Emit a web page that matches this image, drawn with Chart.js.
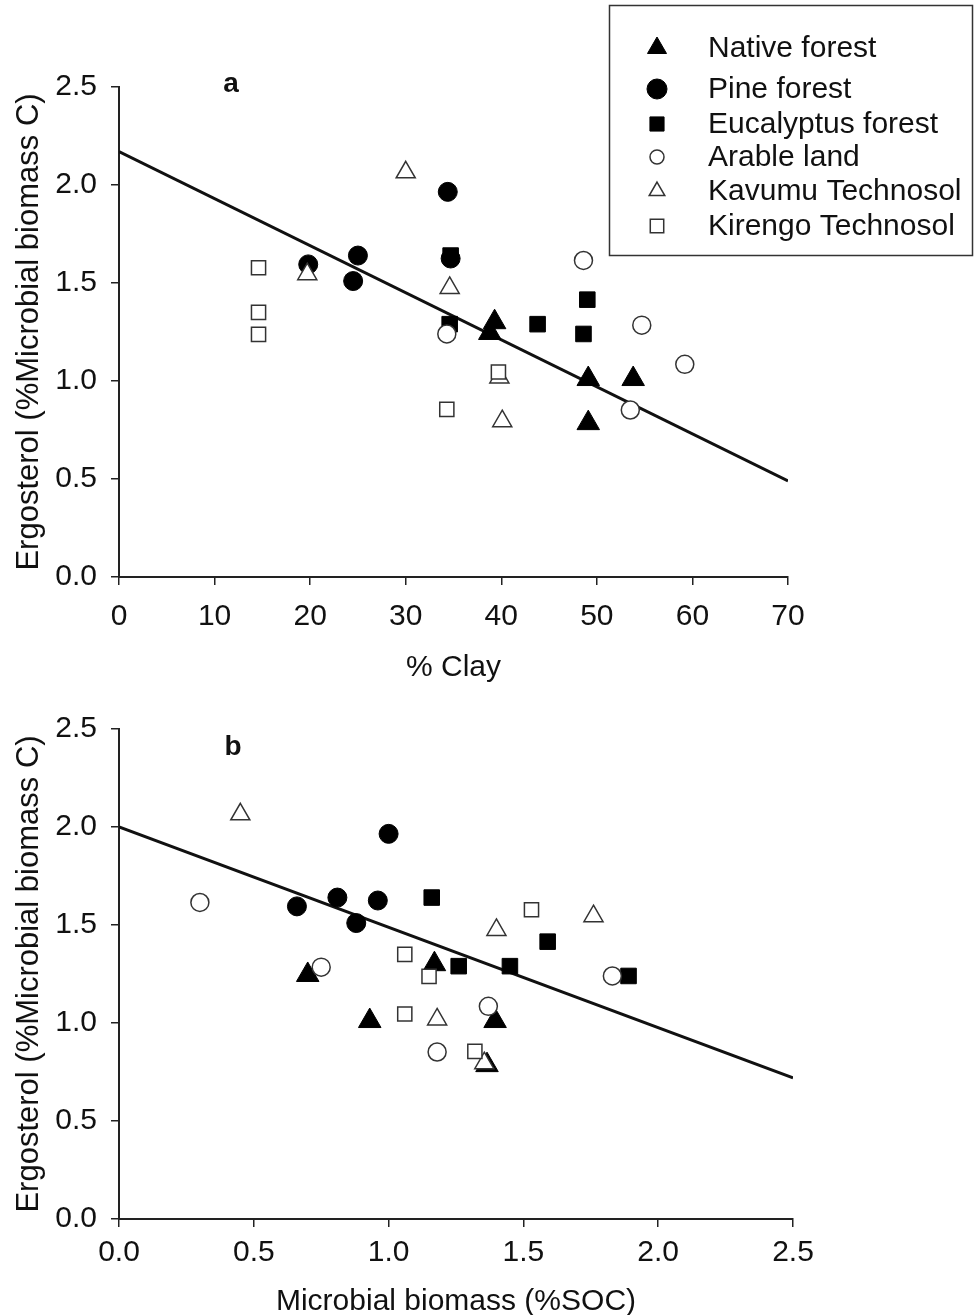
<!DOCTYPE html>
<html>
<head>
<meta charset="utf-8">
<script src="https://cdn.jsdelivr.net/npm/chart.js@4"></script>
<style>
  body { margin: 0; background: #fff; }
  #wrap { position: relative; width: 977px; height: 1315px; }
  canvas { position: absolute; left: 0; }
  #chartA { top: 0; }
  #chartB { top: 700px; }
</style>
</head>
<body>
<div id="wrap">
  <canvas id="chartA" width="977" height="700"></canvas>
  <canvas id="chartB" width="977" height="615"></canvas>
</div>
<script>
// series names, in legend order
const seriesNames = ['Native forest', 'Pine forest', 'Eucalyptus forest', 'Arable land', 'Kavumu Technosol', 'Kirengo Technosol'];

// ergosterol (% microbial biomass C), same samples in both panels
const ergoNative = [1.30, 1.245, 1.01, 1.01, 0.785];
const ergoPine = [1.595, 1.64, 1.51, 1.965, 1.625];
const ergoEuc = [1.64, 1.29, 1.29, 1.415, 1.24];
const ergoArable = [1.24, 1.615, 1.285, 1.085, 0.852];
const ergoKavumu = [2.065, 1.545, 1.475, 1.018, 0.795];
const ergoKirengo = [1.578, 1.35, 1.238, 1.046, 0.855];

// % clay (panel a)
const clayNative = [39.3, 38.8, 49.1, 53.8, 49.1];
const clayPine = [19.8, 25.0, 24.5, 34.4, 34.7];
const clayEuc = [34.7, 34.6, 43.8, 49.0, 48.6];
const clayArable = [34.3, 48.6, 54.7, 59.2, 53.5];
const clayKavumu = [30.0, 19.7, 34.6, 39.8, 40.1];
const clayKirengo = [14.6, 14.6, 14.6, 39.7, 34.3];

// microbial biomass (%SOC) (panel b)
const mbNative = [1.17, 0.70, 0.93, 1.395, 1.365];
const mbPine = [0.66, 0.81, 0.88, 1.00, 0.96];
const mbEuc = [1.16, 1.26, 1.45, 1.59, 1.89];
const mbArable = [1.83, 0.30, 0.75, 1.37, 1.18];
const mbKavumu = [0.45, 1.76, 1.40, 1.18, 1.355];
const mbKirengo = [1.53, 1.06, 1.15, 1.06, 1.32];

// regression lines
const fitAx = [0, 70];
const fitAy = [2.17, 0.49];
const fitBx = [0, 2.5];
const fitBy = [2.0, 0.72];

// tick values
const ergoTicks = [0, 0.5, 1.0, 1.5, 2.0, 2.5];
const clayTicks = [0, 10, 20, 30, 40, 50, 60, 70];
const mbTicks = [0, 0.5, 1.0, 1.5, 2.0, 2.5];

const ergoAll = [ergoNative, ergoPine, ergoEuc, ergoArable, ergoKavumu, ergoKirengo];
const clayAll = [clayNative, clayPine, clayEuc, clayArable, clayKavumu, clayKirengo];
const mbAll = [mbNative, mbPine, mbEuc, mbArable, mbKavumu, mbKirengo];

// marker look per series
const markers = [
  { style: 'triangle', r: 13, fill: '#000', line: '#000', bw: 1, lr: 11 },
  { style: 'circle', r: 9.5, fill: '#000', line: '#000', bw: 1, lr: 10 },
  { style: 'rect', r: 11, fill: '#000', line: '#000', bw: 1, lr: 10 },
  { style: 'circle', r: 9, fill: '#fff', line: '#333', bw: 1.5, lr: 7 },
  { style: 'triangle', r: 11, fill: '#fff', line: '#333', bw: 1.5, lr: 9 },
  { style: 'rect', r: 10, fill: '#fff', line: '#333', bw: 1.5, lr: 9.5 }
];

Chart.defaults.font.family = '"Liberation Sans", Arial, sans-serif';
Chart.defaults.color = '#111';

function pointSets(xs) {
  return seriesNames.map(function (name, i) {
    var m = markers[i];
    return {
      label: name,
      data: xs[i].map(function (x, j) { return { x: x, y: ergoAll[i][j] }; }),
      pointStyle: m.style,
      pointRadius: m.r,
      pointHoverRadius: m.r,
      backgroundColor: m.fill,
      borderColor: m.line,
      borderWidth: m.bw,
      order: 10 - i
    };
  });
}

function fitSet(xs, ys) {
  return {
    label: 'fit',
    data: xs.map(function (x, j) { return { x: x, y: ys[j] }; }),
    showLine: true,
    pointRadius: 0,
    borderColor: '#111',
    borderWidth: 3,
    order: 20
  };
}

const legendBox = {
  id: 'legendBox',
  afterDraw: function (chart) {
    if (!chart.options.plugins.legendBox.show) return;
    var ctx = chart.ctx;
    var rows = [48, 89, 124, 157, 191, 226];
    ctx.save();
    ctx.lineWidth = 1.5;
    ctx.strokeStyle = '#333';
    ctx.strokeRect(609.5, 5.5, 363, 250);
    ctx.font = '30px "Liberation Sans", Arial, sans-serif';
    ctx.textBaseline = 'middle';
    ctx.textAlign = 'left';
    chart.data.datasets.forEach(function (ds, i) {
      if (i >= seriesNames.length) return;
      var m = markers[i];
      ctx.fillStyle = m.fill;
      ctx.strokeStyle = m.line;
      ctx.lineWidth = m.bw;
      Chart.helpers.drawPoint(ctx, { pointStyle: m.style, radius: m.lr, rotation: 0, borderWidth: m.bw }, 657, rows[i]);
      ctx.fillStyle = '#111';
      ctx.fillText(ds.label, 708, rows[i] + 1);
    });
    ctx.restore();
  }
};

const panelLabel = {
  id: 'panelLabel',
  afterDraw: function (chart) {
    var o = chart.options.plugins.panelLabel;
    var ctx = chart.ctx;
    ctx.save();
    ctx.font = 'bold 28px "Liberation Sans", Arial, sans-serif';
    ctx.fillStyle = '#111';
    ctx.textAlign = 'center';
    ctx.textBaseline = 'middle';
    ctx.fillText(o.text, o.x, o.y);
    ctx.restore();
  }
};

function makeOptions(p) {
  return {
    responsive: false,
    animation: false,
    events: [],
    layout: { padding: { left: 0, top: p.top, right: p.right, bottom: 0 } },
    plugins: {
      legend: { display: false },
      tooltip: { enabled: false },
      legendBox: { show: p.legend },
      panelLabel: p.label
    },
    scales: {
      x: {
        type: 'linear',
        min: p.xTicks[0],
        max: p.xTicks[p.xTicks.length - 1],
        afterBuildTicks: function (s) { s.ticks = p.xTicks.map(function (v) { return { value: v }; }); },
        afterFit: function (s) { s.height = p.xHeight; },
        ticks: {
          font: { size: 30, lineHeight: 1 },
          padding: p.xPad,
          maxRotation: 0,
          callback: p.xFmt
        },
        grid: { drawOnChartArea: false, drawTicks: true, tickLength: 8, color: '#222', lineWidth: 1.5 },
        border: { display: true, color: '#222', width: 2 },
        title: {
          display: true,
          text: p.xTitle,
          font: { size: 30, lineHeight: 1 },
          padding: { top: 0, bottom: p.xTitlePad }
        }
      },
      y: {
        type: 'linear',
        min: 0,
        max: 2.5,
        afterBuildTicks: function (s) { s.ticks = ergoTicks.map(function (v) { return { value: v }; }); },
        afterFit: function (s) { s.width = 119; },
        ticks: {
          font: { size: 30, lineHeight: 1 },
          padding: 14,
          callback: function (v) { return Number(v).toFixed(1); }
        },
        grid: { drawOnChartArea: false, drawTicks: true, tickLength: 8, color: '#222', lineWidth: 1.5 },
        border: { display: true, color: '#222', width: 2 },
        title: {
          display: true,
          text: 'Ergosterol (%Microbial biomass C)',
          font: { size: 31, lineHeight: 1 },
          padding: { top: 14, bottom: 0 }
        }
      }
    }
  };
}

new Chart(document.getElementById('chartA'), {
  type: 'scatter',
  data: { datasets: pointSets(clayAll).concat([fitSet(fitAx, fitAy)]) },
  options: makeOptions({
    top: 87, right: 189, xHeight: 123, xPad: 17, xTitlePad: 17,
    xTicks: clayTicks, xTitle: '% Clay',
    xFmt: function (v) { return String(v); },
    legend: true,
    label: { text: 'a', x: 231, y: 84 }
  }),
  plugins: [legendBox, panelLabel]
});

new Chart(document.getElementById('chartB'), {
  type: 'scatter',
  data: { datasets: pointSets(mbAll).concat([fitSet(fitBx, fitBy)]) },
  options: makeOptions({
    top: 27, right: 184, xHeight: 96, xPad: 11, xTitlePad: -2,
    xTicks: mbTicks, xTitle: 'Microbial biomass (%SOC)',
    xFmt: function (v) { return Number(v).toFixed(1); },
    legend: false,
    label: { text: 'b', x: 233, y: 47 }
  }),
  plugins: [legendBox, panelLabel]
});
</script>
</body>
</html>
